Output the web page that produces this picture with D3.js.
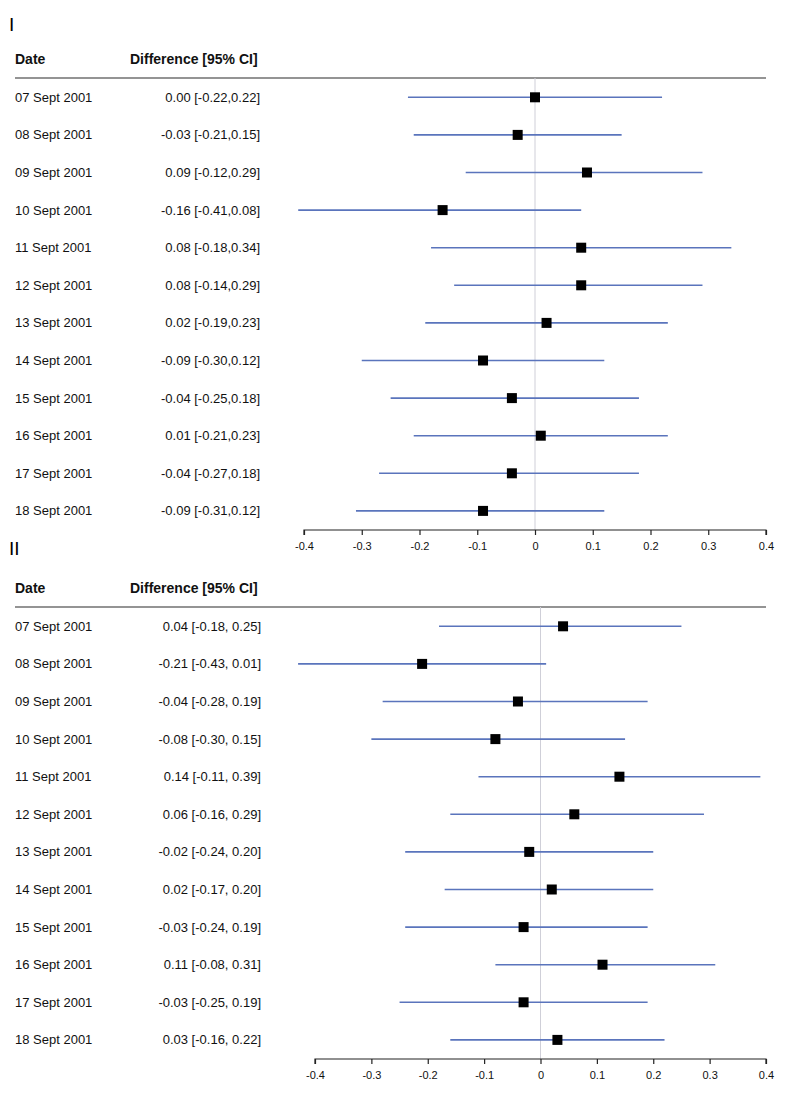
<!DOCTYPE html>
<html><head><meta charset="utf-8">
<script src="https://cdn.jsdelivr.net/npm/d3@7"></script>
<style>body{margin:0;background:#fff;} svg{display:block;font-family:"Liberation Sans",Arial,sans-serif;}</style>
</head><body>
<svg id="chart" width="800" height="1103"></svg>
<script>
const dates = ["07 Sept 2001","08 Sept 2001","09 Sept 2001","10 Sept 2001","11 Sept 2001","12 Sept 2001","13 Sept 2001","14 Sept 2001","15 Sept 2001","16 Sept 2001","17 Sept 2001","18 Sept 2001"];
const estI = [0.00,-0.03,0.09,-0.16,0.08,0.08,0.02,-0.09,-0.04,0.01,-0.04,-0.09];
const loI  = [-0.22,-0.21,-0.12,-0.41,-0.18,-0.14,-0.19,-0.30,-0.25,-0.21,-0.27,-0.31];
const hiI  = [0.22,0.15,0.29,0.08,0.34,0.29,0.23,0.12,0.18,0.23,0.18,0.12];
const estII = [0.04,-0.21,-0.04,-0.08,0.14,0.06,-0.02,0.02,-0.03,0.11,-0.03,0.03];
const loII  = [-0.18,-0.43,-0.28,-0.30,-0.11,-0.16,-0.24,-0.17,-0.24,-0.08,-0.25,-0.16];
const hiII  = [0.25,0.01,0.19,0.15,0.39,0.29,0.20,0.20,0.19,0.31,0.19,0.22];
const ticks = [-0.4,-0.3,-0.2,-0.1,0,0.1,0.2,0.3,0.4];
const tickLabels = ["-0.4","-0.3","-0.2","-0.1","0","0.1","0.2","0.3","0.4"];
const panelLabels = ["I","II"];
const headers = ["Date","Difference [95% CI]"];

const svg = d3.select("#chart");
const f2 = v => v.toFixed(2).replace("-0.00","0.00");

function panel(cfg){
  const g = svg.append("g");
  const x = d3.scaleLinear().domain([-0.4,0.4]).range([cfg.x0, cfg.x1]);
  const y = d3.scaleBand().domain(d3.range(dates.length)).range([cfg.rowTop, cfg.rowTop + cfg.rowStep*dates.length]);
  const yc = i => y(i) + y.bandwidth()/2;

  g.append("text").attr("x", 9).attr("y", cfg.labelY).attr("font-size", 19).attr("fill","#000")
    .attr("font-family","Liberation Sans, Arial, sans-serif").text(cfg.label);
  g.append("text").attr("x",15).attr("y",cfg.headY).attr("font-size",14).attr("font-weight","bold").attr("fill","#111").text(headers[0]);
  g.append("text").attr("x",130).attr("y",cfg.headY).attr("font-size",14).attr("font-weight","bold").attr("fill","#111").text(headers[1]);
  g.append("line").attr("x1",15).attr("x2",766).attr("y1",cfg.lineY).attr("y2",cfg.lineY)
    .attr("stroke","#707070").attr("stroke-width",1.4);

  // zero line
  g.append("line").attr("x1",x(0)).attr("x2",x(0)).attr("y1",cfg.lineY).attr("y2",cfg.axisY)
    .attr("stroke","#cfcfd8").attr("stroke-width",1);

  const rows = g.selectAll("g.row").data(dates).join("g").attr("class","row");
  rows.append("text").attr("x",15).attr("y",(d,i)=>yc(i)+4.5).attr("font-size",13).attr("fill","#111").text(d=>d);
  rows.append("text").attr("x",cfg.textRight).attr("y",(d,i)=>yc(i)+4.5).attr("font-size",13).attr("fill","#111")
    .attr("text-anchor","end")
    .text((d,i)=> f2(cfg.est[i]) + " [" + f2(cfg.lo[i]) + "," + cfg.sep + f2(cfg.hi[i]) + "]");
  rows.append("line").attr("x1",(d,i)=>x(cfg.lo[i])).attr("x2",(d,i)=>x(cfg.hi[i]))
    .attr("y1",(d,i)=>yc(i)).attr("y2",(d,i)=>yc(i)).attr("stroke","#5a74bc").attr("stroke-width",1.6);
  rows.append("rect").attr("x",(d,i)=>x(cfg.est[i])-5).attr("y",(d,i)=>yc(i)-5)
    .attr("width",10).attr("height",10).attr("fill","#000");

  const axis = d3.axisBottom(x).tickValues(ticks).tickFormat((d,i)=>tickLabels[i]).tickSize(5).tickSizeOuter(0);
  const ag = g.append("g").attr("transform",`translate(0,${cfg.axisY})`).call(axis);
  ag.select(".domain").attr("stroke","#222").attr("stroke-width",1.2).attr("d",`M${cfg.x0},5V0H${cfg.x1}V5`);
  ag.selectAll(".tick line").attr("stroke","#222").attr("stroke-width",1.2);
  ag.selectAll(".tick text").attr("font-size",11).attr("fill","#111").attr("font-family","Liberation Sans, Arial, sans-serif").attr("y",10).attr("dy","0.9em");
}

panel({label:panelLabels[0], labelY:31, headY:64, lineY:78, rowTop:78.5, rowStep:37.6, x0:304, x1:766, axisY:530,
  est:estI, lo:loI, hi:hiI, sep:"", textRight:260});
panel({label:panelLabels[1], labelY:555, headY:593, lineY:607, rowTop:607.5, rowStep:37.6, x0:315, x1:766, axisY:1059,
  est:estII, lo:loII, hi:hiII, sep:" ", textRight:261});
</script>
</body></html>
